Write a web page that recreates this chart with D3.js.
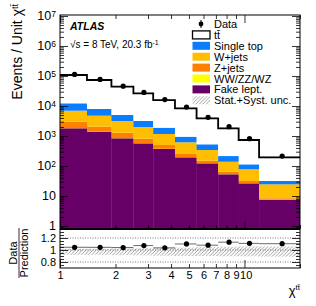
<!DOCTYPE html>
<html>
<head>
<meta charset="utf-8">
<script src="https://cdn.jsdelivr.net/npm/d3@7"></script>
<style>
  body { margin: 0; background: #fff; }
  svg { font-family: "Liberation Sans", Arial, sans-serif; }
</style>
</head>
<body>
<svg id="chart" width="316" height="306"></svg>
<script>
// chi_ttbar bins and per-process yields (events / unit chi)
const binEdges = [1, 1.4, 1.9, 2.5, 3.2, 4.2, 5.5, 7.2, 9.3, 12, 20]
const ttbar = [95700, 65700, 39000, 23300, 13900, 7430, 3360, 1590, 622, 163]
const singleTop = [5330, 3190, 1850, 1170, 724, 331, 188, 76, 36, 7.1]
const wJets = [3970, 2710, 1870, 1180, 665, 366, 191, 74, 46, 16.1]
const zJets = [1163, 634, 436, 235, 126, 53, 25, 10.8, 4.7, 0.9]
const diboson = [25, 18, 12, 8, 5, 3, 1.8, 0.8, 0.4, 0.1]
const fakeLept = [1810, 1390, 840, 570, 370, 195, 123, 53, 26.5, 7.4]
const dataValues = [112900, 76900, 45800, 28400, 16350, 9220, 4200, 2040, 817, 215]
const uncUp = [1.02, 1.02, 1.025, 1.03, 1.035, 1.04, 1.05, 1.055, 1.06, 1.06]
const uncDown = [0.92, 0.92, 0.915, 0.91, 0.905, 0.90, 0.90, 0.895, 0.895, 0.89]
const xTickValues = [1, 2, 3, 4, 5, 6, 7, 8, 9, 10]
const ratioTickValues = [0.8, 1, 1.2]

const TT = "tt\u0304"

const processes = [
  {key: "fake", name: "Fake lept.", values: fakeLept, color: "#660066"},
  {key: "diboson", name: "WW/ZZ/WZ", values: diboson, color: "#ffff00"},
  {key: "zjets", name: "Z+jets", values: zJets, color: "#ff7f00"},
  {key: "wjets", name: "W+jets", values: wJets, color: "#ffbf00"},
  {key: "stop", name: "Single top", values: singleTop, color: "#0a7dff"},
  {key: "ttbar", name: TT, values: ttbar, color: "#ffffff"}
]

const svg = d3.select("#chart")

const L = 60, R = 300, T = 15, MB = 229, RB = 268
const yMin = Math.pow(10, -0.1), yMax = Math.pow(10, 7.0333)

const x = d3.scaleLog().domain([1, 20]).range([L, R])
const y = d3.scaleLog().domain([yMin, yMax]).range([MB, T])
const yr = d3.scaleLinear().domain([0.7, 1.35]).range([RB, MB])

let defs = svg.append("defs")
let pat = defs.append("pattern")
  .attr("id", "hatch").attr("patternUnits", "userSpaceOnUse")
  .attr("width", 3.5).attr("height", 3.5)
pat.append("path").attr("d", "M-1,1 l2,-2 M0,3.5 l3.5,-3.5 M2.5,4.5 l2,-2")
  .attr("stroke", "#888").attr("stroke-width", 0.8)
defs.append("clipPath").attr("id", "clipMain")
  .append("rect").attr("x", L).attr("y", T).attr("width", R - L).attr("height", MB - T)
defs.append("clipPath").attr("id", "clipRatio")
  .append("rect").attr("x", L).attr("y", MB).attr("width", R - L).attr("height", RB - MB)

// stacked table
let bins = ttbar.map(function(d, i) {
  let row = {lo: binEdges[i], hi: binEdges[i + 1]}
  processes.forEach(function(p) { row[p.key] = p.values[i] })
  return row
})
let stack = d3.stack().keys(processes.map(p => p.key))(bins)
let totals = bins.map(function(b) { return d3.sum(processes, p => b[p.key]) })

let main = svg.append("g").attr("clip-path", "url(#clipMain)")

stack.forEach(function(layer, li) {
  main.append("g").selectAll("rect")
    .data(layer)
    .enter()
    .append("rect")
    .attr("x", d => x(d.data.lo))
    .attr("width", d => x(d.data.hi) - x(d.data.lo) + 0.3)
    .attr("y", d => y(d[1]))
    .attr("height", d => y(Math.max(d[0], yMin)) - y(d[1]))
    .attr("fill", processes[li].color)
})

// uncertainty band on the total
main.append("g").selectAll("rect")
  .data(bins)
  .enter()
  .append("rect")
  .attr("x", d => x(d.lo))
  .attr("width", d => x(d.hi) - x(d.lo))
  .attr("y", (d, i) => y(totals[i] * (uncUp[i] + 0.02)))
  .attr("height", (d, i) => y(totals[i] * (uncDown[i] + 0.04)) - y(totals[i] * (uncUp[i] + 0.02)))
  .attr("fill", "url(#hatch)")

let stepData = binEdges.map((e, i) => [e, totals[Math.min(i, totals.length - 1)]])
main.append("path")
  .attr("d", d3.line().x(d => x(d[0])).y(d => y(d[1])).curve(d3.curveStepAfter)(stepData))
  .attr("fill", "none").attr("stroke", "#000").attr("stroke-width", 1.8)

// data points
let centers = bins.map(b => (b.lo + b.hi) / 2)
main.append("g").selectAll("circle")
  .data(dataValues)
  .enter()
  .append("circle")
  .attr("cx", (d, i) => x(centers[i]))
  .attr("cy", d => y(d))
  .attr("r", 2.6)
  .attr("fill", "#000")

// ratio panel
let ratio = svg.append("g").attr("clip-path", "url(#clipRatio)")

ratio.append("g").selectAll("rect")
  .data(bins)
  .enter()
  .append("rect")
  .attr("x", d => x(d.lo))
  .attr("width", d => x(d.hi) - x(d.lo) + 0.3)
  .attr("y", (d, i) => yr(uncUp[i]))
  .attr("height", (d, i) => yr(uncDown[i]) - yr(uncUp[i]))
  .attr("fill", "url(#hatch)")

ratio.append("g").selectAll("line")
  .data([1.2, 1, 0.8])
  .enter()
  .append("line")
  .attr("x1", L).attr("x2", R)
  .attr("y1", d => yr(d)).attr("y2", d => yr(d))
  .attr("stroke", "#555").attr("stroke-width", 0.8).attr("stroke-dasharray", "1,1.5")

ratio.append("g").selectAll("line")
  .data(bins)
  .enter()
  .append("line")
  .attr("x1", d => x(d.lo)).attr("x2", d => x(d.hi))
  .attr("y1", (d, i) => yr(dataValues[i] / totals[i]))
  .attr("y2", (d, i) => yr(dataValues[i] / totals[i]))
  .attr("stroke", "#444").attr("stroke-width", 0.8)

ratio.append("g").selectAll("circle")
  .data(bins)
  .enter()
  .append("circle")
  .attr("cx", (d, i) => x(centers[i]))
  .attr("cy", (d, i) => yr(dataValues[i] / totals[i]))
  .attr("r", 2.6)
  .attr("fill", "#000")

// frames
svg.append("rect").attr("x", L).attr("y", T).attr("width", R - L).attr("height", RB - T)
  .attr("fill", "none").attr("stroke", "#000").attr("stroke-width", 1)
svg.append("line").attr("x1", L).attr("x2", R).attr("y1", MB).attr("y2", MB)
  .attr("stroke", "#000").attr("stroke-width", 2)

// axes, ticks pointing inward
function strip(g) {
  g.select(".domain").remove()
  g.selectAll(".tick line").attr("stroke", "#000").attr("stroke-width", 0.8)
}

let yTicks = y.ticks()
let yMajor = yTicks.filter(v => Math.abs(Math.log10(v) - Math.round(Math.log10(v))) < 1e-6)
let yMinor = yTicks.filter(v => yMajor.indexOf(v) < 0)

let yAxisLeft = svg.append("g").attr("transform", "translate(" + L + ",0)")
  .call(d3.axisLeft(y).tickValues(yMajor).tickSize(-8).tickPadding(4))
  .call(strip)
yAxisLeft.selectAll(".tick text")
  .attr("font-size", 12.5).attr("font-family", "Liberation Sans, Arial, sans-serif").attr("fill", "#000")
  .each(function(d) {
    let e = Math.round(Math.log10(d))
    let t = d3.select(this).text(null)
    if (e <= 1) { t.text(e === 0 ? "1" : "10"); return }
    t.append("tspan").text("10")
    t.append("tspan").attr("dy", "-0.45em").attr("font-size", 8.5).text(e)
  })
svg.append("g").attr("transform", "translate(" + L + ",0)")
  .call(d3.axisLeft(y).tickValues(yMinor).tickSize(-4).tickFormat(""))
  .call(strip)
svg.append("g").attr("transform", "translate(" + R + ",0)")
  .call(d3.axisRight(y).tickValues(yMajor).tickSize(-8).tickFormat(""))
  .call(strip)
svg.append("g").attr("transform", "translate(" + R + ",0)")
  .call(d3.axisRight(y).tickValues(yMinor).tickSize(-4).tickFormat(""))
  .call(strip)

let xMajor = [1, 10]
let xMinor = [2, 3, 4, 5, 6, 7, 8, 9, 20]
;[MB, RB].forEach(function(yy) {
  svg.append("g").attr("transform", "translate(0," + yy + ")")
    .call(d3.axisBottom(x).tickValues(xMajor).tickSize(-8).tickFormat(""))
    .call(strip)
  svg.append("g").attr("transform", "translate(0," + yy + ")")
    .call(d3.axisBottom(x).tickValues(xMinor).tickSize(-4).tickFormat(""))
    .call(strip)
})
svg.append("g").attr("transform", "translate(0," + T + ")")
  .call(d3.axisTop(x).tickValues(xMajor).tickSize(-8).tickFormat(""))
  .call(strip)
svg.append("g").attr("transform", "translate(0," + T + ")")
  .call(d3.axisTop(x).tickValues(xMinor).tickSize(-4).tickFormat(""))
  .call(strip)

let xLabels = svg.append("g").attr("transform", "translate(0," + RB + ")")
  .call(d3.axisBottom(x).tickValues(xTickValues).tickSize(0).tickPadding(3).tickFormat(d3.format("d")))
  .call(strip)
xLabels.selectAll(".tick text").attr("font-size", 11).attr("fill", "#000")
  .attr("font-family", "Liberation Sans, Arial, sans-serif")
  .attr("dx", d => d === 10 ? 1.2 : 0)

let rMinor = d3.range(0.75, 1.351, 0.05).filter(v => ratioTickValues.every(m => Math.abs(m - v) > 1e-6))
let rAxis = svg.append("g").attr("transform", "translate(" + L + ",0)")
  .call(d3.axisLeft(yr).tickValues(ratioTickValues).tickSize(-8).tickPadding(4).tickFormat(d3.format("")))
  .call(strip)
rAxis.selectAll(".tick text").attr("font-size", 11).attr("fill", "#000")
  .attr("font-family", "Liberation Sans, Arial, sans-serif")
svg.append("g").attr("transform", "translate(" + L + ",0)")
  .call(d3.axisLeft(yr).tickValues(rMinor).tickSize(-4).tickFormat(""))
  .call(strip)
svg.append("g").attr("transform", "translate(" + R + ",0)")
  .call(d3.axisRight(yr).tickValues(ratioTickValues).tickSize(-8).tickFormat(""))
  .call(strip)
svg.append("g").attr("transform", "translate(" + R + ",0)")
  .call(d3.axisRight(yr).tickValues(rMinor).tickSize(-4).tickFormat(""))
  .call(strip)

// titles
let yTitle = svg.append("text")
  .attr("transform", "translate(22,4) rotate(-90)")
  .attr("text-anchor", "end").attr("font-size", 14)
yTitle.append("tspan").text("Events / Unit \u03c7")
yTitle.append("tspan").attr("dy", "-0.5em").attr("font-size", 9).text(TT)

let rt = svg.append("g").attr("transform", "translate(19,253) rotate(-90)")
rt.append("text").attr("y", -2.5).attr("text-anchor", "middle").attr("font-size", 11).text("Data")
rt.append("line").attr("x1", -25).attr("x2", 25).attr("y1", 0).attr("y2", 0)
  .attr("stroke", "#000").attr("stroke-width", 0.8)
rt.append("text").attr("y", 9).attr("text-anchor", "middle").attr("font-size", 11).text("Prediction")

let xTitle = svg.append("text").attr("x", 300).attr("y", 295)
  .attr("text-anchor", "end").attr("font-size", 13)
xTitle.append("tspan").text("\u03c7")
xTitle.append("tspan").attr("dy", "-0.6em").attr("font-size", 8).text(TT)

svg.append("text").attr("x", 70).attr("y", 29.5)
  .attr("font-size", 10.5).attr("font-weight", "bold").attr("font-style", "italic").text("ATLAS")
let lumi = svg.append("text").attr("x", 70).attr("y", 48).attr("font-size", 10)
lumi.append("tspan").text("\u221as = 8 TeV, 20.3 fb")
lumi.append("tspan").attr("dy", "-0.45em").attr("font-size", 7).text("-1")

// legend
let legendItems = [
  {name: "Data", type: "data"},
  {name: TT, type: "box", color: "#fff", stroke: "#000"},
  {name: "Single top", type: "box", color: processes[4].color},
  {name: "W+jets", type: "box", color: processes[3].color},
  {name: "Z+jets", type: "box", color: processes[2].color},
  {name: "WW/ZZ/WZ", type: "box", color: processes[1].color},
  {name: "Fake lept.", type: "box", color: processes[0].color},
  {name: "Stat.+Syst. unc.", type: "hatch"}
]
let legend = svg.append("g")
legendItems.forEach(function(item, i) {
  let cy = 24 + i * 10.9
  let g = legend.append("g").attr("transform", "translate(0," + cy + ")")
  if (item.type === "data") {
    g.append("line").attr("x1", 201).attr("x2", 201).attr("y1", -4).attr("y2", 4)
      .attr("stroke", "#000").attr("stroke-width", 1)
    g.append("circle").attr("cx", 201).attr("cy", 0).attr("r", 2.4)
  } else if (item.type === "box") {
    g.append("rect").attr("x", 192.5).attr("y", -4).attr("width", 17.5).attr("height", 8)
      .attr("fill", item.color)
      .attr("stroke", item.stroke || "none").attr("stroke-width", item.stroke ? 1.3 : 0)
  } else {
    g.append("rect").attr("x", 192.5).attr("y", -4).attr("width", 17.5).attr("height", 8)
      .attr("fill", "url(#hatch)")
  }
  g.append("text").attr("x", 214).attr("y", 4).attr("font-size", 11).text(item.name)
})
</script>
</body>
</html>
